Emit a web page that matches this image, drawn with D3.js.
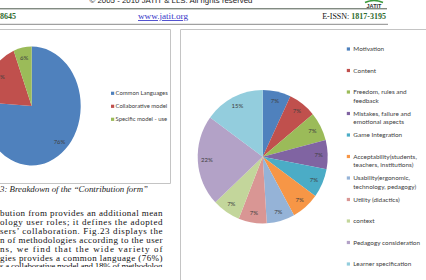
<!DOCTYPE html>
<html>
<head>
<meta charset="utf-8">
<script src="https://cdn.jsdelivr.net/npm/d3@7"></script>
<style>
body { margin: 0; background: #fff; }
svg { display: block; }
</style>
</head>
<body>
<svg id="page" width="426" height="280"></svg>
<script>
// left chart: breakdown of the contribution form
var leftCategories = ["Common Languages", "Collaborative model", "Specific model - use"];
var leftValues = [76, 18, 6];
var leftColors = ["#4F81BD", "#C0504D", "#9BBB59"];

// right chart
var rightCategories = [
	["Motivation"],
	["Content"],
	["Freedom, rules and", "feedback"],
	["Mistakes, failure and", "emotional aspects"],
	["Game Integration"],
	["Acceptability(students,", "teachers, institutions)"],
	["Usability(ergonomic,", "technology, pedagogy)"],
	["Utility (didactics)"],
	["context"],
	["Pedagogy consideration"],
	["Learner specification"]
];
var rightValues = [7, 7, 7, 7, 7, 7, 7, 7, 7, 22, 15];
var rightColors = ["#4F81BD", "#C0504D", "#9BBB59", "#8064A2", "#4BACC6", "#F79646",
	"#95B3D7", "#D99694", "#C3D69B", "#B3A2C7", "#93CDDD"];

var captionText = "3: Breakdown of the \u201cContribution form\u201d";
var bodyLines = [
	"bution from provides an additional mean",
	"ology user roles; it defines the adopted",
	"sers\u2019 collaboration. Fig.23 displays the",
	"n of methodologies according to the user",
	"ns, we find that the wide variety of",
	"gies provides a common language (76%)",
	"s a collaborative model and 18% of methodolog"
];

var svg = d3.select("#page");
var serif = "'Liberation Serif', 'DejaVu Serif', serif";
var sans = "Lato, 'Liberation Sans', sans-serif";
var green = "#2E6B2E";

// ---- page header
svg.append("text")
	.attr("x", 171).attr("y", 3)
	.attr("text-anchor", "middle")
	.attr("textLength", 163).attr("lengthAdjust", "spacingAndGlyphs")
	.style("font", "7.5px 'Liberation Sans', Arial, sans-serif")
	.style("fill", "#222")
	.text("\u00a9 2005 - 2010 JATIT & LLS. All rights reserved");

svg.append("path")
	.attr("d", "M365,2.5 Q374,-1.5 383,2.5")
	.style("fill", "none").style("stroke", "#3c9a3c").style("stroke-width", 1.5);
svg.append("text")
	.attr("x", 374).attr("y", 8)
	.attr("text-anchor", "middle")
	.style("font", "bold 5.5px 'Liberation Sans', Arial, sans-serif")
	.style("fill", "#333")
	.text("JATIT");

svg.append("line")
	.attr("x1", 0).attr("x2", 387).attr("y1", 8.8).attr("y2", 8.8)
	.style("stroke", "#4d5a4d").style("stroke-width", 1);

svg.append("text")
	.attr("x", 0).attr("y", 19)
	.style("font", "bold 8px " + serif)
	.style("fill", green)
	.text("8645");

svg.append("text")
	.attr("x", 138).attr("y", 19)
	.attr("textLength", 50).attr("lengthAdjust", "spacingAndGlyphs")
	.style("font", "8.5px " + serif)
	.style("fill", "#3535c8")
	.style("text-decoration", "underline")
	.text("www.jatit.org");

var issn = svg.append("text")
	.attr("x", 386).attr("y", 19)
	.attr("text-anchor", "end")
	.style("font", "8px " + serif);
issn.append("tspan").style("fill", "#111").text("E-ISSN: ");
issn.append("tspan").style("fill", green).style("font-weight", "bold").text("1817-3195");

svg.append("line")
	.attr("x1", 0).attr("x2", 388).attr("y1", 24.3).attr("y2", 24.3)
	.style("stroke", "#8a8a8a").style("stroke-width", 1);

// ---- panel frames
var frame = "#c4c4c4";
svg.append("path")
	.attr("d", "M0,29.5H170.5V183.5H0")
	.style("fill", "none").style("stroke", frame);
svg.append("path")
	.attr("d", "M180.5,280V29.5H426")
	.style("fill", "none").style("stroke", frame);

// ---- pies
function drawPie(opts) {
	var pie = d3.pie().sort(null).value(function(d) { return d; });
	var arcs = pie(opts.values);
	var arc = d3.arc().innerRadius(0).outerRadius(opts.ry);
	var g = svg.append("g")
		.attr("transform", "translate(" + opts.cx + "," + opts.cy + ")");
	g.append("g")
		.attr("transform", "scale(" + (opts.rx / opts.ry) + ",1)")
		.selectAll("path")
		.data(arcs)
		.enter().append("path")
			.attr("d", arc)
			.style("fill", function(d, i) { return opts.colors[i]; });
	g.selectAll("text")
		.data(arcs)
		.enter().append("text")
			.attr("x", function(d) {
				var a = (d.startAngle + d.endAngle) / 2;
				return Math.sin(a) * opts.rx * opts.k;
			})
			.attr("y", function(d) {
				var a = (d.startAngle + d.endAngle) / 2;
				return -Math.cos(a) * opts.ry * opts.k;
			})
			.attr("dy", "0.35em")
			.attr("text-anchor", "middle")
			.style("font", "6px " + sans)
			.style("fill", "#404040")
			.text(function(d) { return d.data + "%"; });
}

drawPie({ cx: 31.7, cy: 106, rx: 49, ry: 59.5, k: 0.83,
	values: leftValues, colors: leftColors });
drawPie({ cx: 262.7, cy: 156.7, rx: 65, ry: 66.7, k: 0.86,
	values: rightValues, colors: rightColors });

// ---- legends
var yLeft = d3.scaleLinear().domain([0, 1]).range([93.3, 106.3]);
var legL = svg.append("g").selectAll("g")
	.data(leftCategories)
	.enter().append("g")
		.attr("transform", function(d, i) { return "translate(111," + yLeft(i) + ")"; });
legL.append("rect")
	.attr("x", 0).attr("y", -1.6).attr("width", 3.2).attr("height", 3.2)
	.style("fill", function(d, i) { return leftColors[i]; });
legL.append("text")
	.attr("x", 4.5).attr("dy", "0.35em")
	.style("font", "5.9px " + sans)
	.style("fill", "#404040")
	.text(function(d) { return d; });

var yRight = d3.scaleLinear().domain([0, 1]).range([49, 70.5]);
var legR = svg.append("g").selectAll("g")
	.data(rightCategories)
	.enter().append("g")
		.attr("transform", function(d, i) { return "translate(346.8," + yRight(i) + ")"; });
legR.append("rect")
	.attr("x", 0).attr("y", -1.6).attr("width", 3.2).attr("height", 3.2)
	.style("fill", function(d, i) { return rightColors[i]; });
legR.append("text")
	.style("font", "6.4px " + sans)
	.style("fill", "#404040")
	.selectAll("tspan")
	.data(function(d) { return d; })
	.enter().append("tspan")
		.attr("x", 6.5)
		.attr("y", function(d, j) { return j * 8.6; })
		.attr("dy", "0.35em")
		.text(function(d) { return d; });

// ---- caption and body text
svg.append("text")
	.attr("x", 0).attr("y", 191.5)
	.attr("textLength", 148).attr("lengthAdjust", "spacingAndGlyphs")
	.style("font", "italic 8px " + serif)
	.style("fill", "#222")
	.text(captionText);

var bodyClip = svg.append("clipPath").attr("id", "bodyClip");
bodyClip.append("rect").attr("x", 0).attr("y", 195).attr("width", 170).attr("height", 72);

var yBody = d3.scaleLinear().domain([0, 1]).range([216, 224.9]);
svg.append("g")
	.attr("clip-path", "url(#bodyClip)")
	.selectAll("text")
	.data(bodyLines)
	.enter().append("text")
		.attr("x", 0)
		.attr("y", function(d, i) { return yBody(i); })
		.attr("textLength", 162.5)
		.attr("lengthAdjust", "spacing")
		.style("font", "9px " + serif)
		.style("fill", "#111")
		.text(function(d) { return d; });
</script>
</body>
</html>
